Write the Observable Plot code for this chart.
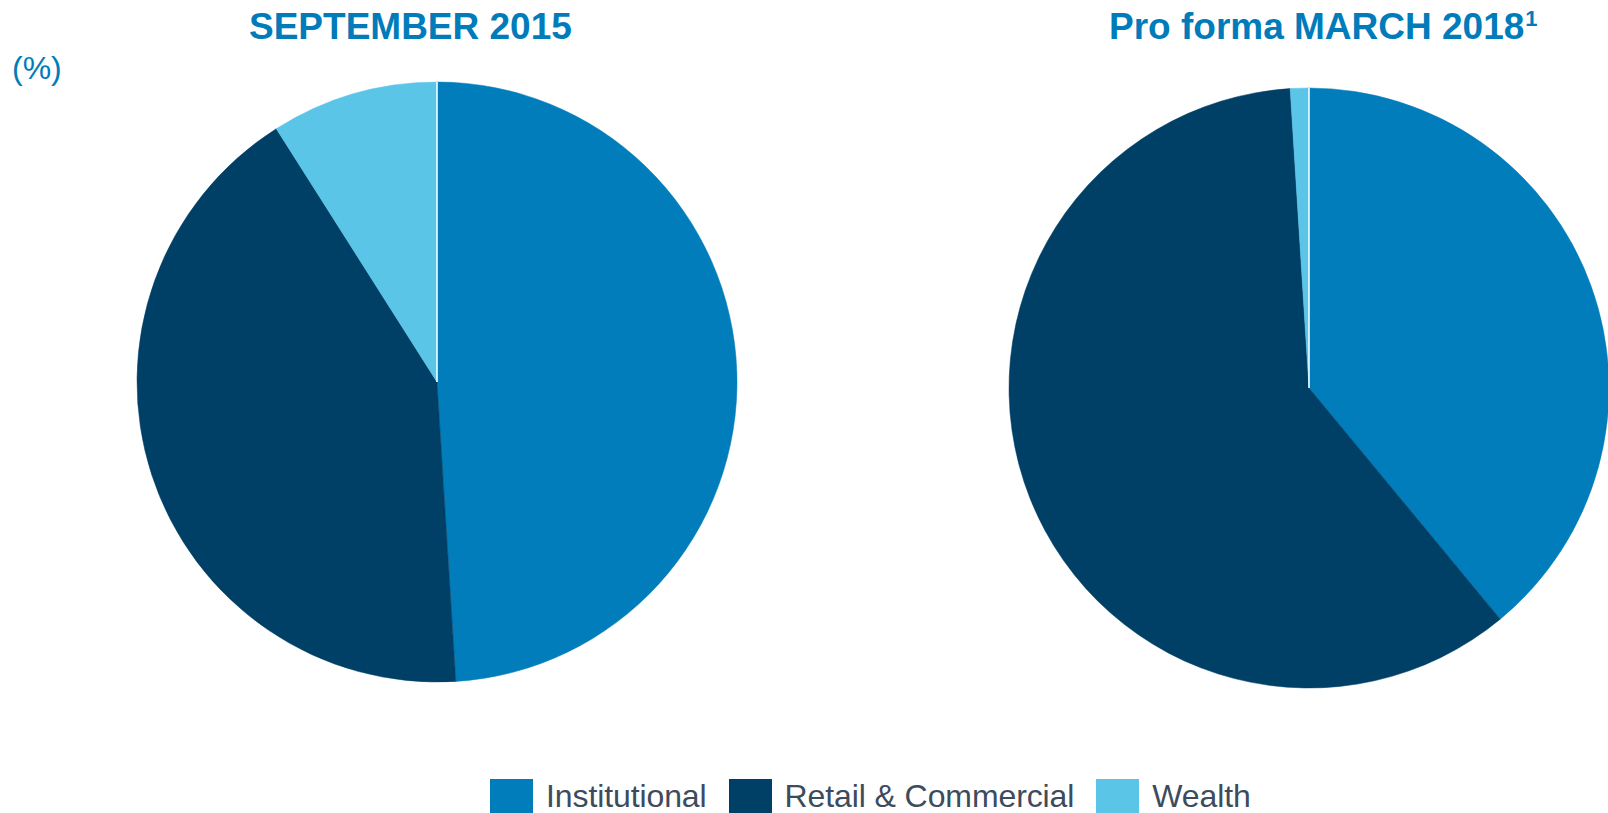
<!DOCTYPE html>
<html>
<head>
<meta charset="utf-8">
<script src="https://cdn.jsdelivr.net/npm/d3@7"></script>
<script src="https://cdn.jsdelivr.net/npm/@observablehq/plot@0.6"></script>
<style>
  html, body { margin: 0; padding: 0; background: #fff; overflow: hidden; }
  #wrap { position: relative; width: 1608px; height: 813px; overflow: hidden; font-family: "Liberation Sans", Arial, sans-serif; }
  #chart { position: absolute; left: 0; top: 0; }
  .title { position: absolute; top: 8px; font-weight: bold; color: #007CBA; font-size: 37px; line-height: 1; white-space: nowrap; }
  .title sup { font-size: 22px; vertical-align: 0; position: relative; top: -13px; margin-left: 1px; }
  #unit { position: absolute; left: 12px; top: 52px; font-size: 32px; line-height: 1; color: #007CBA; }
  #legend { position: absolute; left: 490px; top: 779px; }
  #legend .lg-swatches { font-family: "Liberation Sans", Arial, sans-serif; font-size: 32px; line-height: 1.1; letter-spacing: -0.1px; color: #3D4B5C; margin: 0; }
  #legend .lg-swatch { margin-right: 22px; align-items: flex-start; }
  #legend .lg-swatch > svg { margin-right: 13px; }
</style>
</head>
<body>
<div id="wrap">
  <div id="chart"></div>
  <div id="unit"></div>
  <div id="legend"></div>
</div>
<script>
// ---- data ----
const charts = ["SEPTEMBER 2015", "Pro forma MARCH 2018"];
const footnotes = ["", "1"];
const unitLabel = "(%)";
const segments = ["Institutional", "Retail & Commercial", "Wealth"];
const sep2015 = [49, 42, 9];
const mar2018 = [39, 60, 1];
const colors = ["#007DBA", "#004066", "#5BC5E8"];

// ---- build slices ----
const seriesValues = [sep2015, mar2018];
const pie = d3.pie().sort(null).value(d => d.value);
const slices = [];
charts.forEach((c, ci) => {
  const rows = segments.map((s, si) => ({chart: c, segment: s, value: seriesValues[ci][si]}));
  pie(rows).forEach(a => slices.push({...a.data, startAngle: a.startAngle, endAngle: a.endAngle}));
});

const R = 300;
const arc = d3.arc().innerRadius(0).outerRadius(R);

const plot = Plot.plot({
  width: 1608,
  height: 813,
  margin: 0,
  x: {type: "point", domain: charts, range: [437, 1309], padding: 0, axis: null},
  y: {type: "point", domain: charts, range: [382, 388], padding: 0, axis: null},
  color: {domain: segments, range: colors},
  marks: [
    Plot.dot(slices, {
      x: "chart",
      y: "chart",
      fill: "segment",
      render(index, scales, values) {
        const g = d3.create("svg:g");
        for (const i of index) {
          g.append("path")
            .attr("d", arc(slices[i]))
            .attr("transform", `translate(${values.x[i]},${values.y[i]})`)
            .attr("fill", values.fill[i])
            .attr("stroke", values.fill[i])
            .attr("stroke-width", 0.5);
        }
        // thin white separator at 12 o'clock
        for (const i of index) {
          if (slices[i].startAngle === 0) {
            g.append("line")
              .attr("x1", values.x[i]).attr("x2", values.x[i])
              .attr("y1", values.y[i] - R).attr("y2", values.y[i])
              .attr("stroke", "white").attr("stroke-width", 1.5);
          }
        }
        return g.node();
      }
    })
  ]
});
document.getElementById("chart").appendChild(plot);

// titles
const titleLeft = [249, 1109];
charts.forEach((c, i) => {
  const d = document.createElement("div");
  d.className = "title";
  d.style.left = titleLeft[i] + "px";
  d.textContent = c;
  if (footnotes[i]) {
    const s = document.createElement("sup");
    s.textContent = footnotes[i];
    d.appendChild(s);
  }
  document.getElementById("wrap").appendChild(d);
});
document.getElementById("unit").textContent = unitLabel;

// legend
const legend = Plot.legend({
  color: {domain: segments, range: colors},
  legend: "swatches",
  swatchSize: 43,
  className: "lg"
});
document.getElementById("legend").appendChild(legend);
</script>
</body>
</html>
